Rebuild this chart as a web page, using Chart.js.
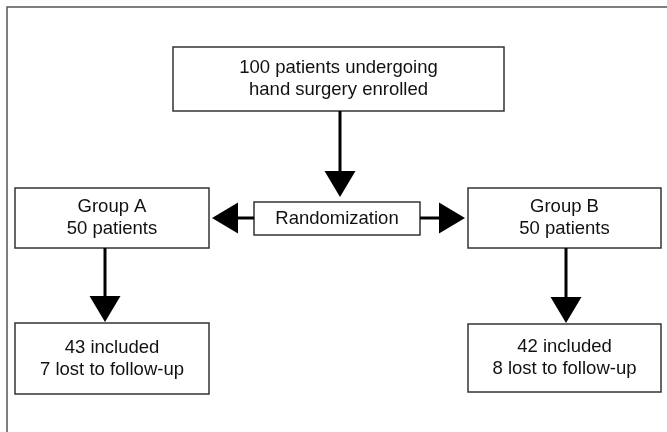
<!DOCTYPE html>
<html>
<head>
<meta charset="utf-8">
<script src="https://cdn.jsdelivr.net/npm/chart.js@4/dist/chart.umd.min.js"></script>
<style>
  html, body { margin: 0; padding: 0; background: #fff; }
  #wrap { width: 667px; height: 432px; position: relative; }
</style>
</head>
<body>
<div id="wrap"><canvas id="flow"></canvas></div>
<script>
// study counts
var enrolled = [100];
var groupNames = ["Group A", "Group B"];
var groupSizes = [50, 50];
var included = [43, 42];
var lost = [7, 8];

// box layout, in scale units (x 0..667, y 0..432)
var boxes = {
  top:   { x0: 173, x1: 504, y0: 47,  y1: 111, lines: [enrolled[0] + " patients undergoing", "hand surgery enrolled"] },
  rand:  { x0: 254, x1: 420, y0: 202, y1: 235, lines: ["Randomization"] },
  grpA:  { x0: 15,  x1: 209, y0: 188, y1: 248, lines: [groupNames[0], groupSizes[0] + " patients"] },
  grpB:  { x0: 468, x1: 661, y0: 188, y1: 248, lines: [groupNames[1], groupSizes[1] + " patients"] },
  endA:  { x0: 15,  x1: 209, y0: 323, y1: 394, lines: [included[0] + " included", lost[0] + " lost to follow-up"] },
  endB:  { x0: 468, x1: 661, y0: 324, y1: 392, lines: [included[1] + " included", lost[1] + " lost to follow-up"] }
};

// arrows: from -> to, direction
var arrows = [
  { x: 340, y0: 111, y1: 197, dir: "down" },
  { x: 105, y0: 248, y1: 322, dir: "down" },
  { x: 566, y0: 248, y1: 323, dir: "down" },
  { y: 218, x0: 254, x1: 212, dir: "left" },
  { y: 218, x0: 420, x1: 465, dir: "right" }
];

var flowPlugin = {
  id: "flow",
  afterDraw: function(chart) {
    var ctx = chart.ctx;
    var sx = chart.scales.x, sy = chart.scales.y;
    function px(v) { return sx.getPixelForValue(v); }
    function py(v) { return sy.getPixelForValue(v); }

    ctx.save();
    // outer frame
    ctx.strokeStyle = "#555";
    ctx.lineWidth = 1.5;
    ctx.beginPath();
    ctx.moveTo(px(7), py(432));
    ctx.lineTo(px(7), py(7));
    ctx.lineTo(px(667), py(7));
    ctx.stroke();

    // boxes
    ctx.font = "18.5px 'Liberation Sans', Arial, Helvetica, sans-serif";
    ctx.textAlign = "center";
    ctx.textBaseline = "middle";
    Object.keys(boxes).forEach(function(k) {
      var b = boxes[k];
      var x0 = px(b.x0), x1 = px(b.x1), y0 = py(b.y0), y1 = py(b.y1);
      ctx.fillStyle = "#fff";
      ctx.fillRect(x0, y0, x1 - x0, y1 - y0);
      ctx.strokeStyle = "#333";
      ctx.lineWidth = 1.5;
      ctx.strokeRect(x0, y0, x1 - x0, y1 - y0);
      ctx.fillStyle = "#111";
      var cx = (x0 + x1) / 2, cy = (y0 + y1) / 2;
      var lh = 22;
      var start = cy - (b.lines.length - 1) * lh / 2;
      b.lines.forEach(function(t, i) {
        ctx.fillText(t, cx, start + i * lh);
      });
    });

    // arrows
    ctx.strokeStyle = "#000";
    ctx.fillStyle = "#000";
    ctx.lineWidth = 3;
    arrows.forEach(function(a) {
      ctx.beginPath();
      if (a.dir === "down") {
        var x = px(a.x), y0 = py(a.y0), y1 = py(a.y1);
        ctx.moveTo(x, y0);
        ctx.lineTo(x, y1 - 20);
        ctx.stroke();
        ctx.beginPath();
        ctx.moveTo(x - 15.5, y1 - 26);
        ctx.lineTo(x + 15.5, y1 - 26);
        ctx.lineTo(x, y1);
        ctx.closePath();
        ctx.fill();
      } else {
        var s = a.dir === "left" ? -1 : 1;
        var y = py(a.y), x0 = px(a.x0), x1 = px(a.x1);
        ctx.moveTo(x0, y);
        ctx.lineTo(x1 - s * 20, y);
        ctx.stroke();
        ctx.beginPath();
        ctx.moveTo(x1 - s * 26, y - 15.5);
        ctx.lineTo(x1 - s * 26, y + 15.5);
        ctx.lineTo(x1, y);
        ctx.closePath();
        ctx.fill();
      }
    });
    ctx.restore();
  }
};

new Chart(document.getElementById("flow").getContext("2d"), {
  type: "scatter",
  data: { datasets: [{ data: [] }] },
  options: {
    responsive: true,
    maintainAspectRatio: false,
    animation: false,
    layout: { padding: 0 },
    plugins: { legend: { display: false }, tooltip: { enabled: false } },
    scales: {
      x: { type: "linear", min: 0, max: 667, display: false },
      y: { type: "linear", min: 0, max: 432, reverse: true, display: false }
    }
  },
  plugins: [flowPlugin]
});
</script>
</body>
</html>
